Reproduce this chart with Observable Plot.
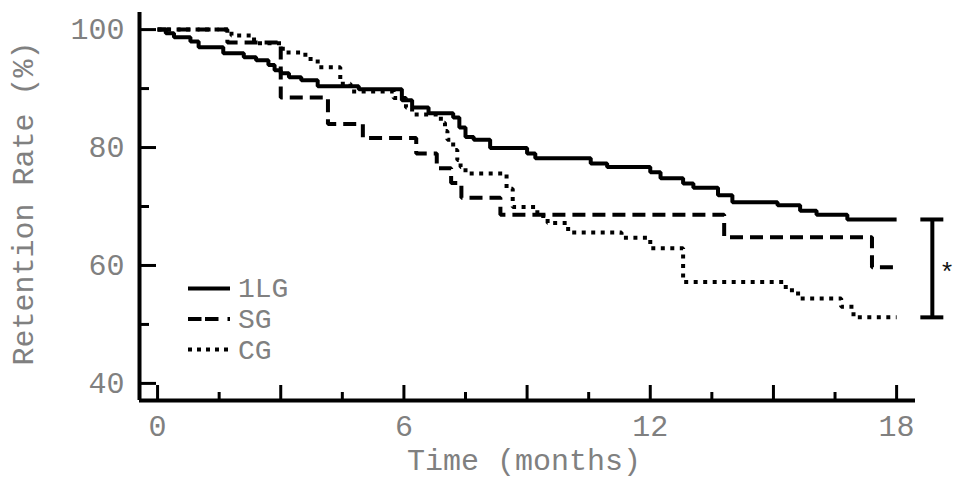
<!DOCTYPE html>
<html>
<head>
<meta charset="utf-8">
<script src="https://cdn.jsdelivr.net/npm/d3@7"></script>
<script src="https://cdn.jsdelivr.net/npm/@observablehq/plot@0.6"></script>
<style>
  html, body { margin: 0; padding: 0; background: #fff; }
  #wrap { position: relative; width: 954px; height: 479px; overflow: hidden; }
  #wrap svg { display: block; }
  #legend { position: absolute; left: 0; top: 0; }
</style>
</head>
<body>
<div id="wrap"></div>
<script>
// ---- data (months, retention %) ----
const months1LG = [0, 0.2, 0.4, 0.8, 1.0, 1.6, 2.1, 2.4, 2.7, 2.85, 3.0, 3.2, 3.5, 3.9, 4.9, 5.95, 6.2, 6.6, 7.2, 7.35, 7.5, 7.7, 8.1, 9.0, 9.2, 10.55, 10.95, 12.0, 12.25, 12.8, 13.05, 13.65, 14.0, 15.1, 15.65, 16.05, 16.8, 18];
const rate1LG   = [100, 99.4, 98.7, 98.0, 97.0, 96.0, 95.3, 94.8, 94.0, 93.1, 92.6, 91.9, 91.4, 90.4, 89.9, 88.0, 86.8, 85.8, 85.1, 83.4, 81.8, 81.3, 79.9, 79.0, 78.2, 77.3, 76.7, 75.8, 74.8, 73.9, 73.2, 71.9, 70.7, 70.2, 69.3, 68.6, 67.8, 67.8];

const monthsSG = [0, 1.7, 3.0, 4.15, 5.0, 6.3, 6.8, 7.15, 7.4, 8.35, 13.8, 17.4, 18];
const rateSG   = [100, 97.8, 88.5, 84.0, 81.6, 79.0, 76.5, 74.0, 71.5, 68.6, 64.8, 59.7, 59.7];

const monthsCG = [0, 1.8, 2.35, 3.05, 3.6, 3.9, 4.45, 4.7, 5.75, 6.05, 6.2, 6.9, 7.0, 7.06, 7.2, 7.3, 7.38, 7.5, 8.5, 8.65, 9.25, 9.5, 10.0, 11.3, 12.0, 12.8, 15.3, 15.6, 16.65, 16.95, 18];
const rateCG   = [100, 99.0, 97.7, 96.1, 95.0, 93.6, 90.8, 89.5, 88.4, 86.8, 85.6, 84.2, 82.8, 81.3, 79.6, 77.9, 76.7, 75.6, 73.0, 69.9, 68.4, 67.2, 65.6, 64.7, 62.9, 57.2, 55.8, 54.4, 53.0, 51.2, 51.2];

const groupNames = ["1LG", "SG", "CG"];
const yTickLabels = [40, 60, 80, 100];
const yMinorTicks = [50, 70, 90];
const xTickLabels = [0, 6, 12, 18];
const xMajorTicks = [0, 3, 6, 9, 12, 15, 18];
const xMinorTicks = [1.5, 4.5, 7.5, 10.5, 13.5, 16.5];
const xTitle = "Time (months)";
const yTitle = "Retention Rate (%)";
const signifMark = "*";
const bracketMonth = 18.87;      // where the significance bracket sits
const xDomain = [-0.44, 18.46];
const yDomain = [37.1, 102.9];

// ---- build rows ----
const toRows = (t, v) => t.map((m, i) => ({month: m, rate: v[i]}));
const rows1LG = toRows(months1LG, rate1LG);
const rowsSG = toRows(monthsSG, rateSG);
const rowsCG = toRows(monthsCG, rateCG);
const lgEnd = rate1LG[rate1LG.length - 1];
const cgEnd = rateCG[rateCG.length - 1];

const ink = "#000";
const grey = "#808080";
const font = '"Liberation Mono", "DejaVu Sans Mono", monospace';
const dashSG = "13,7";
const dashCG = "4,5.5";

const chart = Plot.plot({
  width: 954,
  height: 479,
  marginLeft: 139,
  marginRight: 39,
  marginTop: 12,
  marginBottom: 79,
  x: {domain: xDomain},
  y: {domain: yDomain},
  style: {fontFamily: font, fontSize: "30px", color: grey, background: "#fff", overflow: "visible"},
  marks: [
    // tick labels
    Plot.axisX(xTickLabels, {tickSize: 0, tickPadding: 13.7, fontSize: 30, label: null, fill: grey}),
    Plot.axisY(yTickLabels, {tickSize: 0, tickPadding: 15, fontSize: 30, label: null, fill: grey}),
    // inward tick marks
    Plot.ruleX(xMajorTicks, {x: d => d, y1: yDomain[0], y2: yDomain[0], insetTop: -15, stroke: ink, strokeWidth: 3}),
    Plot.ruleX(xMinorTicks, {x: d => d, y1: yDomain[0], y2: yDomain[0], insetTop: -8, stroke: ink, strokeWidth: 3}),
    Plot.ruleY(yTickLabels, {y: d => d, x1: xDomain[0], x2: xDomain[0], insetRight: -17, stroke: ink, strokeWidth: 3}),
    Plot.ruleY(yMinorTicks, {y: d => d, x1: xDomain[0], x2: xDomain[0], insetRight: -10, stroke: ink, strokeWidth: 3}),
    // axis lines
    Plot.ruleX([xDomain[0]], {stroke: ink, strokeWidth: 4}),
    Plot.ruleY([yDomain[0]], {stroke: ink, strokeWidth: 4}),
    // survival curves
    Plot.line(rowsCG, {x: "month", y: "rate", curve: "step-after", stroke: ink, strokeWidth: 4, strokeDasharray: dashCG, strokeLinecap: "butt", strokeLinejoin: "miter"}),
    Plot.line(rowsSG, {x: "month", y: "rate", curve: "step-after", stroke: ink, strokeWidth: 4, strokeDasharray: dashSG, strokeLinecap: "butt", strokeLinejoin: "miter"}),
    Plot.line(rows1LG, {x: "month", y: "rate", curve: "step-after", stroke: ink, strokeWidth: 4, strokeLinecap: "butt", strokeLinejoin: "miter"}),
    // significance bracket
    Plot.ruleX([{x: bracketMonth, y1: cgEnd, y2: lgEnd}], {x: "x", y1: "y1", y2: "y2", stroke: ink, strokeWidth: 4}),
    Plot.ruleY([lgEnd, cgEnd], {y: d => d, x1: bracketMonth, x2: bracketMonth, insetLeft: -11.5, insetRight: -11.5, stroke: ink, strokeWidth: 4}),
    Plot.text([signifMark], {x: bracketMonth, y: (lgEnd + cgEnd) / 2, dx: 7, dy: 4, textAnchor: "start", lineAnchor: "middle", fontSize: 26, fill: "#111"}),
    // axis titles
    Plot.text([yTitle], {frameAnchor: "left", rotate: -90, dx: -116.6, dy: -3, textAnchor: "middle", lineAnchor: "middle", fontSize: 30, fill: grey}),
    Plot.text([xTitle], {frameAnchor: "bottom", dx: -3.5, dy: 59.5, textAnchor: "middle", lineAnchor: "middle", fontSize: 30, fill: grey})
  ]
});

const wrap = document.getElementById("wrap");
wrap.appendChild(chart);

// ---- legend overlay ----
const legendRows = [
  {name: groupNames[0], y: 288.5, dash: null, textY: 297},
  {name: groupNames[1], y: 319, dash: "13.5,3.5,13.5,9", textY: 327.5},
  {name: groupNames[2], y: 349.5, dash: "4,5", textY: 358.5}
];
const leg = d3.create("svg")
  .attr("id", "legend")
  .attr("width", 954)
  .attr("height", 479)
  .style("position", "absolute")
  .style("left", "0px")
  .style("top", "0px")
  .style("pointer-events", "none");
for (const r of legendRows) {
  leg.append("line")
    .attr("x1", 188).attr("x2", 230)
    .attr("y1", r.y).attr("y2", r.y)
    .attr("stroke", ink).attr("stroke-width", 4)
    .attr("stroke-dasharray", r.dash);
  leg.append("text")
    .attr("x", 238).attr("y", r.textY)
    .attr("font-family", font).attr("font-size", 28)
    .attr("fill", grey)
    .text(r.name);
}
wrap.appendChild(leg.node());
</script>
</body>
</html>
